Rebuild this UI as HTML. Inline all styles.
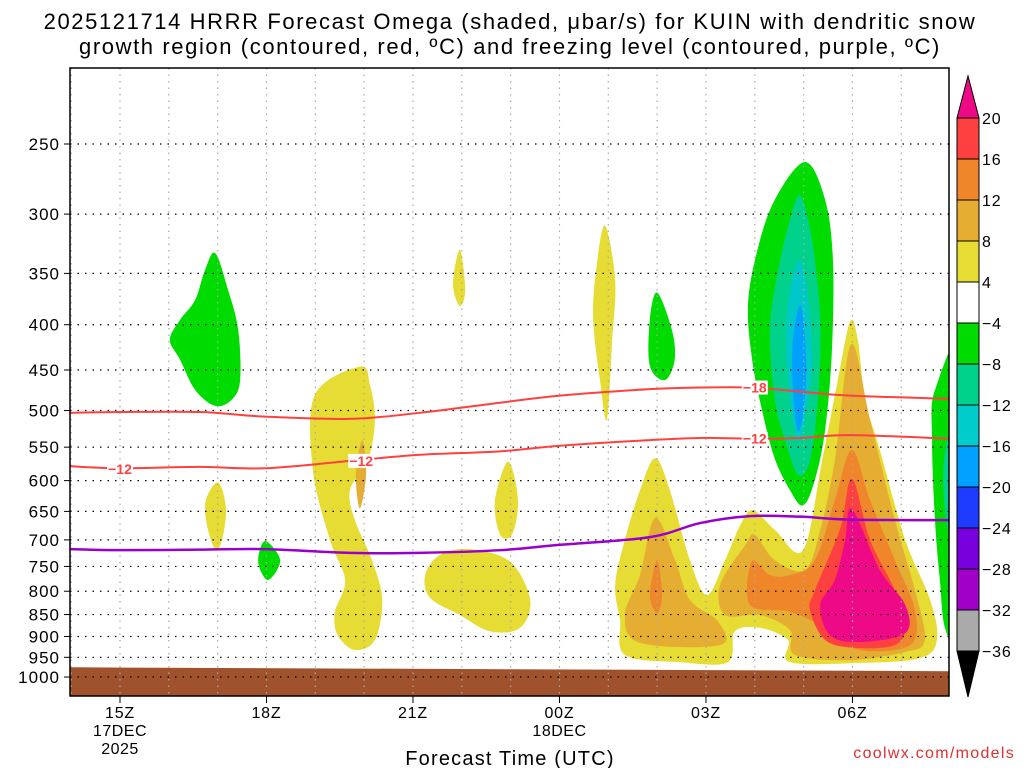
<!DOCTYPE html>
<html><head><meta charset="utf-8"><style>
html,body{margin:0;padding:0;background:#fff;width:1024px;height:768px;overflow:hidden}
svg{display:block;font-family:"Liberation Sans",sans-serif}
</style></head><body>
<svg id="chart" width="1024" height="768">
<text x="510" y="29" text-anchor="middle" font-size="22" letter-spacing="1.6">2025121714 HRRR Forecast Omega (shaded, μbar/s) for KUIN with dendritic snow</text>
<text x="510" y="54" text-anchor="middle" font-size="22" letter-spacing="1.6">growth region (contoured, red, ºC) and freezing level (contoured, purple, ºC)</text>
<text x="510" y="765" text-anchor="middle" font-size="20" letter-spacing="1.2">Forecast Time (UTC)</text>
<text x="1015" y="758" text-anchor="end" font-size="16" letter-spacing="1.3" fill="#e03030">coolwx.com/models</text>
<defs><clipPath id="pc"><rect x="70" y="68" width="879" height="628"/></clipPath></defs>
<g id="plot" clip-path="url(#pc)"></g>
<g id="axes"></g>
<g id="cbar"></g>
</svg>
<script>
// ---- data ----
const pressureTicks=[250,300,350,400,450,500,550,600,650,700,750,800,850,900,950,1000];
const timeTickHours=[0,3,6,9,12,15];
const timeTickLabels=["15Z","18Z","21Z","00Z","03Z","06Z"];
const dateLabels=[["17DEC","2025"],[],[],["18DEC"],[],[]];
const lineHours=[-1.02,0,1.64,2.97,4.71,6.14,7.78,9.01,10.85,11.88,12.9,13.93,14.95,16.98];
const isoMinus18=[503,502,502,508,511,503,490,481,473,471,471,476,481,485];
const isoMinus12=[578,581,579,581,570,561,556,548,540,537,538,537,533,538];
const freezingLevel=[717,719,718,717,724,724,719,709,695,670,658,659,664,665];
const cbarLevels=[20,16,12,8,4,-4,-8,-12,-16,-20,-24,-28,-32,-36];
const cbarColors=["#ff4040","#f0862a","#e6ad33","#e6dc33","#ffffff","#00dc00","#00d28c","#00cccc","#00a0ff","#1e3cff","#7800dc","#a000c8","#aaaaaa"];
const C={y:"#e6dc33",g:"#e6ad33",o:"#f0862a",r:"#ff4040",m:"#ee0a87",G:"#00dc00",T:"#00d28c",Cy:"#00c8c8",B:"#00a0ff"};
const blobs=[
 ["G",[[1.95,332],[2.21,365],[2.42,405],[2.46,462],[2.29,486],[1.95,494],[1.54,474],[1.23,438],[1.02,416],[1.23,395],[1.54,375],[1.74,347]]],
 ["y",[[2.01,603],[2.17,645],[2.09,700],[1.95,717],[1.78,673],[1.76,631]]],
 ["G",[[2.97,702],[3.28,738],[3.03,777],[2.83,741]]],
 ["y",[[6.96,329],[7.07,365],[6.96,381],[6.82,360]]],
 ["y",[[4.92,446],[3.99,480],[3.95,584],[4.30,700],[4.61,777],[4.40,845],[4.46,897],[4.81,932],[5.22,908],[5.37,818],[5.16,738],[4.81,665],[4.71,615],[5.08,569],[5.22,512],[5.12,468]]],
 ["g",[[4.96,540],[5.04,590],[4.91,645],[4.83,590]]],
 ["y",[[7.17,717],[7.99,741],[8.40,818],[8.19,880],[7.58,888],[6.96,851],[6.35,814],[6.25,767],[6.55,728]]],
 ["y",[[7.95,571],[8.15,631],[8.03,690],[7.78,690],[7.68,631]]],
 ["y",[[9.93,309],[10.14,356],[10.08,416],[9.97,512],[9.83,462],[9.69,395],[9.75,347]]],
 ["G",[[11.0,368],[11.30,405],[11.36,438],[11.16,462],[10.85,445],[10.85,395]]],
 ["y",[[10.96,566],[11.26,615],[11.67,738],[12.02,808],[12.39,738],[12.70,674],[12.96,648],[13.41,682],[13.99,719],[14.38,569],[14.70,462],[14.95,397],[15.11,416],[15.26,486],[15.56,554],[16.08,700],[16.59,818],[16.73,908],[16.38,952],[15.15,964],[13.72,962],[13.68,908],[13.11,880],[12.59,888],[12.45,962],[11.47,962],[10.34,944],[10.24,862],[10.14,787],[10.34,700],[10.65,615]]],
 ["g",[[10.96,661],[11.37,738],[11.67,818],[12.25,866],[12.29,920],[10.65,915],[10.34,851],[10.65,767]]],
 ["g",[[14.97,421],[15.36,512],[15.87,665],[16.28,798],[16.48,908],[16.08,937],[14.95,957],[13.82,944],[13.72,885],[13.11,851],[12.39,851],[12.29,787],[12.80,710],[13.0,691],[13.41,738],[14.03,757],[14.34,682],[14.64,569]]],
 ["o",[[11.0,738],[11.1,808],[11.0,847],[10.85,808]]],
 ["o",[[14.99,554],[15.36,631],[15.87,738],[16.28,840],[16.18,920],[15.15,932],[14.54,885],[13.72,844],[12.90,829],[12.94,740],[13.31,767],[13.72,767],[14.23,738],[14.64,631]]],
 ["r",[[14.99,597],[15.36,700],[15.87,798],[16.08,874],[15.87,920],[15.05,927],[14.44,908],[14.13,840],[14.23,798],[14.74,682]]],
 ["m",[[14.99,646],[15.56,757],[16.08,829],[16.08,892],[15.15,913],[14.54,897],[14.34,829],[14.64,777],[14.85,700]]],
 ["G",[[14.03,262],[14.44,289],[14.60,338],[14.58,427],[14.44,526],[14.23,599],[13.99,640],[13.72,615],[13.40,565],[13.15,500],[12.95,440],[12.86,380],[13.05,330],[13.41,289]]],
 ["T",[[13.93,286],[14.17,321],[14.34,395],[14.29,486],[14.13,569],[13.89,591],[13.62,540],[13.41,486],[13.31,405],[13.48,347],[13.72,305]]],
 ["Cy",[[13.93,338],[14.09,375],[14.17,438],[14.03,512],[13.89,540],[13.72,486],[13.64,416],[13.72,365]]],
 ["B",[[13.93,380],[14.03,416],[14.05,462],[13.97,512],[13.87,526],[13.78,474],[13.78,416]]],
 ["G",[[17.3,430],[16.69,474],[16.63,540],[16.69,665],[16.79,777],[16.91,885],[17.3,930]]],
 ["T",[[17.3,500],[16.9,554],[16.92,665],[17.3,760]]]
];
const groundHours=[-1.1,17.1];
const groundPressure=[975,985];
// ---- scales ----
const x=h=>120+h*48.83;
const y=p=>144+384.5*Math.log(p/250);
const NS="http://www.w3.org/2000/svg";
function mk(tag,attrs,parent){const e=document.createElementNS(NS,tag);for(const k in attrs)e.setAttribute(k,attrs[k]);parent.appendChild(e);return e;}
function smoothClosed(pts){
 const n=pts.length;let d=`M${pts[0][0]},${pts[0][1]}`;
 for(let i=0;i<n;i++){const p0=pts[(i-1+n)%n],p1=pts[i],p2=pts[(i+1)%n],p3=pts[(i+2)%n];
  d+=`C${p1[0]+(p2[0]-p0[0])/6},${p1[1]+(p2[1]-p0[1])/6} ${p2[0]-(p3[0]-p1[0])/6},${p2[1]-(p3[1]-p1[1])/6} ${p2[0]},${p2[1]}`;}
 return d+"Z";}
function smoothOpen(pts){
 let d=`M${pts[0][0]},${pts[0][1]}`;
 for(let i=0;i<pts.length-1;i++){const p0=pts[Math.max(i-1,0)],p1=pts[i],p2=pts[i+1],p3=pts[Math.min(i+2,pts.length-1)];
  d+=`C${p1[0]+(p2[0]-p0[0])/6},${p1[1]+(p2[1]-p0[1])/6} ${p2[0]-(p3[0]-p1[0])/6},${p2[1]-(p3[1]-p1[1])/6} ${p2[0]},${p2[1]}`;}
 return d;}
const plot=document.getElementById('plot'),axes=document.getElementById('axes'),cb=document.getElementById('cbar');
blobs.forEach((b,i)=>{
 const el=mk('path',{d:smoothClosed(b[1].map(q=>[x(q[0]),y(q[1])])),fill:C[b[0]]},plot);
 
 
});
const gnd=mk('polygon',{points:`${x(groundHours[0])},${y(groundPressure[0])} ${x(groundHours[1])},${y(groundPressure[1])} ${x(groundHours[1])},700 ${x(groundHours[0])},700`,fill:"#a0522d"},plot);


for(let h=-1;h<=17;h++){const l=mk('line',{x1:x(h),x2:x(h),y1:68,y2:696,stroke:"#aaa","stroke-width":1.2,"stroke-dasharray":"1.5 5"},plot);
 
 }
pressureTicks.forEach(p=>{const l=mk('line',{x1:70,x2:949,y1:y(p),y2:y(p),stroke:"#000","stroke-width":1.2,"stroke-dasharray":"1.5 6"},plot);
 
 });
function drawLine(vals,color,w,name){const el=mk('path',{d:smoothOpen(lineHours.map((h,i)=>[x(h),y(vals[i])])),fill:"none",stroke:color,"stroke-width":w},plot);
 
 }
drawLine(isoMinus18,"#ff4040",2,"isotherm-minus18");
drawLine(isoMinus12,"#ff4040",2,"isotherm-minus12");
drawLine(freezingLevel,"#9900cc",2.5,"freezing-level-line");
function lbl(h,p,t){const r=mk('rect',{x:x(h)-13,y:y(p)-7,width:26,height:14,fill:"#fff"},plot);
 
 
 const tx=mk('text',{x:x(h),y:y(p)+5,"text-anchor":"middle","font-size":14,"font-weight":"bold",fill:"#ff4040"},plot);tx.textContent=t;
 
 }
lbl(13.0,471,"−18");lbl(0,582,"−12");lbl(4.94,570,"−12");lbl(13.0,538,"−12");
const fr=mk('rect',{x:70,y:68,width:879,height:628,fill:"none",stroke:"#000","stroke-width":1.5},axes);


pressureTicks.forEach(p=>{const t=mk('text',{x:60,y:y(p)+6,"text-anchor":"end","font-size":17,"letter-spacing":1},axes);t.textContent=p;
 
 
 mk('line',{x1:64,x2:70,y1:y(p),y2:y(p),stroke:"#000"},axes);});
timeTickHours.forEach((h,i)=>{const t=mk('text',{x:x(h),y:718,"text-anchor":"middle","font-size":16,"letter-spacing":0.8},axes);t.textContent=timeTickLabels[i];
 
 
 mk('line',{x1:x(h),x2:x(h),y1:696,y2:703,stroke:"#000"},axes);
 dateLabels[i].forEach((s,j)=>{const d=mk('text',{x:x(h),y:736+j*18,"text-anchor":"middle","font-size":16,"letter-spacing":0.5},axes);d.textContent=s;
  
  });});
const cx=957,cw=22,cTop=118,bh=41;
const up=mk('polygon',{points:`${cx},${cTop} ${cx+cw},${cTop} ${cx+cw/2},${cTop-42}`,fill:"#ee0a87",stroke:"#000"},cb);


cbarColors.forEach((c,i)=>{const r=mk('rect',{x:cx,y:cTop+i*bh,width:cw,height:bh,fill:c,stroke:"#000"},cb);
 
 });
const dn=mk('polygon',{points:`${cx},${cTop+13*bh} ${cx+cw},${cTop+13*bh} ${cx+cw/2},${cTop+13*bh+46}`,fill:"#000",stroke:"#000"},cb);


cbarLevels.forEach((v,i)=>{const t=mk('text',{x:982,y:cTop+i*bh+6,"font-size":16,"letter-spacing":0.8},cb);t.textContent=v<0?"−"+(-v):v;
 
 });
</script>
</body></html>
